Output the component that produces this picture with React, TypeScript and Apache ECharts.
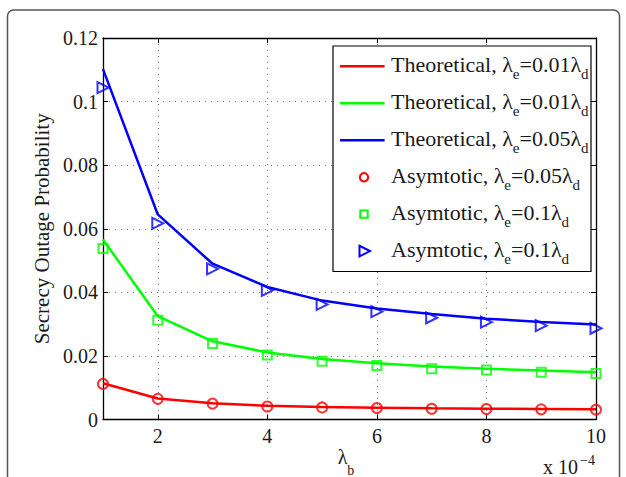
import React, { useEffect, useRef } from 'react';
import * as echarts from 'echarts';

// ---- data ----
const xValues = [1, 2, 3, 4, 5, 6, 7, 8, 9, 10];
const xTickValues = [2, 4, 6, 8, 10];
const yTickValues = [0, 0.02, 0.04, 0.06, 0.08, 0.1, 0.12];

const theoRed = [0.0114, 0.0066, 0.0051, 0.0043, 0.0039, 0.0037, 0.0035, 0.0034, 0.0033, 0.0032];
const theoGreen = [0.0566, 0.0325, 0.0246, 0.0211, 0.019, 0.0177, 0.0167, 0.016, 0.0154, 0.0149];
const theoBlue = [0.1102, 0.0645, 0.049, 0.0417, 0.0374, 0.0349, 0.0332, 0.0317, 0.0307, 0.0299];

const asymRed = [0.0112, 0.0065, 0.005, 0.0041, 0.0038, 0.0036, 0.0034, 0.0033, 0.0032, 0.0031];
const asymGreen = [0.0538, 0.0312, 0.0239, 0.0203, 0.0183, 0.017, 0.016, 0.0156, 0.0149, 0.0145];
const asymBlue = [0.1044, 0.0617, 0.0474, 0.0406, 0.0362, 0.0339, 0.032, 0.0306, 0.0295, 0.0287];

const seriesColors = ['#ff0000', '#00ff00', '#0000ff', '#ff0000', '#00ff00', '#0000ff'];
const legendKinds = ['line', 'line', 'line', 'circle', 'square', 'triangle'];
const legendLabels = [
  'Theoretical, λ{s|e}=0.01λ{s|d}',
  'Theoretical, λ{s|e}=0.01λ{s|d}',
  'Theoretical, λ{s|e}=0.05λ{s|d}',
  'Asymtotic, λ{s|e}=0.05λ{s|d}',
  'Asymtotic, λ{s|e}=0.1λ{s|d}',
  'Asymtotic, λ{s|e}=0.1λ{s|d}',
];
const yAxisTitle = 'Secrecy Outage Probability';
const xAxisTitle = '{m|λ}{s|b}';
const xScaleBase = 'x 10';
const xScaleExp = '−4';

export default function App() {
  const ref = useRef<HTMLDivElement>(null);
  useEffect(() => {
    document.body.style.margin = '0';
    const chart = echarts.init(ref.current!, null, { renderer: 'svg' });
    const font = "'Liberation Serif', 'Times New Roman', serif";
    const pair = (ys: number[]) => xValues.map((x, i) => [x, ys[i]]);
    const gridLine = { show: true, lineStyle: { color: '#777', type: [1, 5], width: 1 } };
    const axisLine = { show: true, onZero: false, lineStyle: { color: '#000', width: 1.3 } };
    const textColor = '#1a1a1a';

    const lineSeries = (name: string, ys: number[], color: string) => ({
      name,
      type: 'line',
      data: pair(ys),
      symbol: 'none',
      lineStyle: { color, width: 2.5 },
      itemStyle: { color },
      z: 2,
    });
    const scatterSeries = (name: string, ys: number[], color: string, symbol: string, size: number, rotate = 0) => ({
      name,
      type: 'scatter',
      data: pair(ys),
      symbol,
      symbolSize: size,
      symbolRotate: rotate,
      clip: false,
      itemStyle: { color: 'rgba(0,0,0,0)', borderColor: color, borderWidth: 2 },
      z: 3,
    });

    // ---- hand-built legend (box, keys, rich labels with subscripts) ----
    const legendBox = { x: 333, y: 46, width: 258, height: 225.5 };
    const rowY = (i: number) => 66.3 + i * 36.95;
    const keyCx = 364;
    const legendEls: any[] = [
      {
        type: 'rect',
        shape: legendBox,
        style: { fill: '#fff', stroke: '#000', lineWidth: 1.2 },
        z: 10,
        silent: true,
      },
    ];
    legendKinds.forEach((kind, i) => {
      const y = rowY(i);
      const c = seriesColors[i];
      if (kind === 'line') {
        legendEls.push({
          type: 'line',
          shape: { x1: 340, y1: y, x2: 384.6, y2: y },
          style: { stroke: c, lineWidth: 2.5 },
          z: 11,
          silent: true,
        });
      } else if (kind === 'circle') {
        legendEls.push({
          type: 'circle',
          shape: { cx: keyCx, cy: y, r: 4.2 },
          style: { fill: 'none', stroke: c, lineWidth: 2 },
          z: 11,
          silent: true,
        });
      } else if (kind === 'square') {
        legendEls.push({
          type: 'rect',
          shape: { x: keyCx - 3.7, y: y - 3.7, width: 7.4, height: 7.4 },
          style: { fill: 'none', stroke: c, lineWidth: 2 },
          z: 11,
          silent: true,
        });
      } else {
        legendEls.push({
          type: 'polygon',
          shape: { points: [[keyCx - 4.5, y - 5.3], [keyCx + 6, y], [keyCx - 4.5, y + 5.3]] },
          style: { fill: 'none', stroke: c, lineWidth: 2 },
          z: 11,
          silent: true,
        });
      }
      legendEls.push({
        type: 'text',
        x: 391,
        y: y - 1.5,
        z: 11,
        silent: true,
        style: {
          text: legendLabels[i],
          font: `22px ${font}`,
          fill: textColor,
          align: 'left',
          verticalAlign: 'middle',
          rich: {
            s: { fontFamily: font, fontSize: 15, fill: textColor, lineHeight: 34, verticalAlign: 'bottom' },
          },
        },
      });
    });

    const option: any = {
      animation: false,
      grid: { left: 103, right: 30, top: 38, bottom: 57.5 },
      xAxis: [
        {
          type: 'value',
          min: 1,
          max: 10,
          position: 'bottom',
          axisLine,
          axisTick: { show: true, inside: true, length: 5, customValues: xTickValues, lineStyle: { color: '#000' } },
          axisLabel: { customValues: xTickValues, color: textColor, fontFamily: font, fontSize: 20, margin: 6 },
          splitLine: gridLine,
        },
        {
          type: 'value',
          min: 1,
          max: 10,
          position: 'top',
          axisLine,
          axisTick: { show: true, inside: true, length: 5, customValues: xTickValues, lineStyle: { color: '#000' } },
          axisLabel: { show: false },
          splitLine: { show: false },
        },
      ],
      yAxis: [
        {
          type: 'value',
          min: 0,
          max: 0.12,
          interval: 0.02,
          position: 'left',
          axisLine,
          axisTick: { show: true, inside: true, length: 5, lineStyle: { color: '#000' } },
          axisLabel: {
            color: textColor,
            fontFamily: font,
            fontSize: 20,
            margin: 5,
            formatter: (v: number) => {
              const i = yTickValues.findIndex((t) => Math.abs(t - v) < 1e-9);
              return i >= 0 ? String(yTickValues[i]) : '';
            },
          },
          splitLine: gridLine,
          name: yAxisTitle,
          nameLocation: 'middle',
          nameGap: 46,
          nameTextStyle: { fontFamily: font, fontSize: 21, color: textColor },
        },
        {
          type: 'value',
          min: 0,
          max: 0.12,
          interval: 0.02,
          position: 'right',
          axisLine,
          axisTick: { show: true, inside: true, length: 5, lineStyle: { color: '#000' } },
          axisLabel: { show: false },
          splitLine: { show: false },
        },
      ],
      graphic: [
        {
          type: 'rect',
          shape: { x: 7.5, y: 10, width: 612, height: 520, r: 6 },
          style: { fill: 'none', stroke: '#555', lineWidth: 1.5 },
          silent: true,
          z: -1,
        },
        {
          type: 'text',
          x: 346,
          y: 447,
          silent: true,
          style: {
            text: xAxisTitle,
            font: `20px ${font}`,
            fill: textColor,
            align: 'center',
            verticalAlign: 'top',
            rich: {
              m: { fontFamily: font, fontSize: 20, fill: textColor, lineHeight: 20, verticalAlign: 'top' },
              s: { fontFamily: font, fontSize: 14, fill: textColor, lineHeight: 30, verticalAlign: 'bottom' },
            },
          },
        },
        {
          type: 'text',
          x: 578,
          y: 477,
          silent: true,
          style: {
            text: xScaleBase,
            align: 'right',
            verticalAlign: 'bottom',
            font: `20px ${font}`,
            fill: textColor,
          },
        },
        {
          type: 'text',
          x: 580,
          y: 460,
          silent: true,
          style: {
            text: xScaleExp,
            align: 'left',
            verticalAlign: 'middle',
            font: `14px ${font}`,
            fill: textColor,
          },
        },
        ...legendEls,
      ],
      series: [
        lineSeries('Theoretical, λe=0.01λd (red)', theoRed, seriesColors[0]),
        lineSeries('Theoretical, λe=0.01λd (green)', theoGreen, seriesColors[1]),
        lineSeries('Theoretical, λe=0.05λd', theoBlue, seriesColors[2]),
        scatterSeries('Asymtotic, λe=0.05λd', asymRed, seriesColors[3], 'circle', 10),
        scatterSeries('Asymtotic, λe=0.1λd (green)', asymGreen, seriesColors[4], 'rect', 9),
        scatterSeries('Asymtotic, λe=0.1λd (blue)', asymBlue, seriesColors[5], 'triangle', 11, -90),
      ],
    };
    chart.setOption(option);
    return () => chart.dispose();
  }, []);
  return <div ref={ref} style={{ width: 626, height: 477 }} />;
}
